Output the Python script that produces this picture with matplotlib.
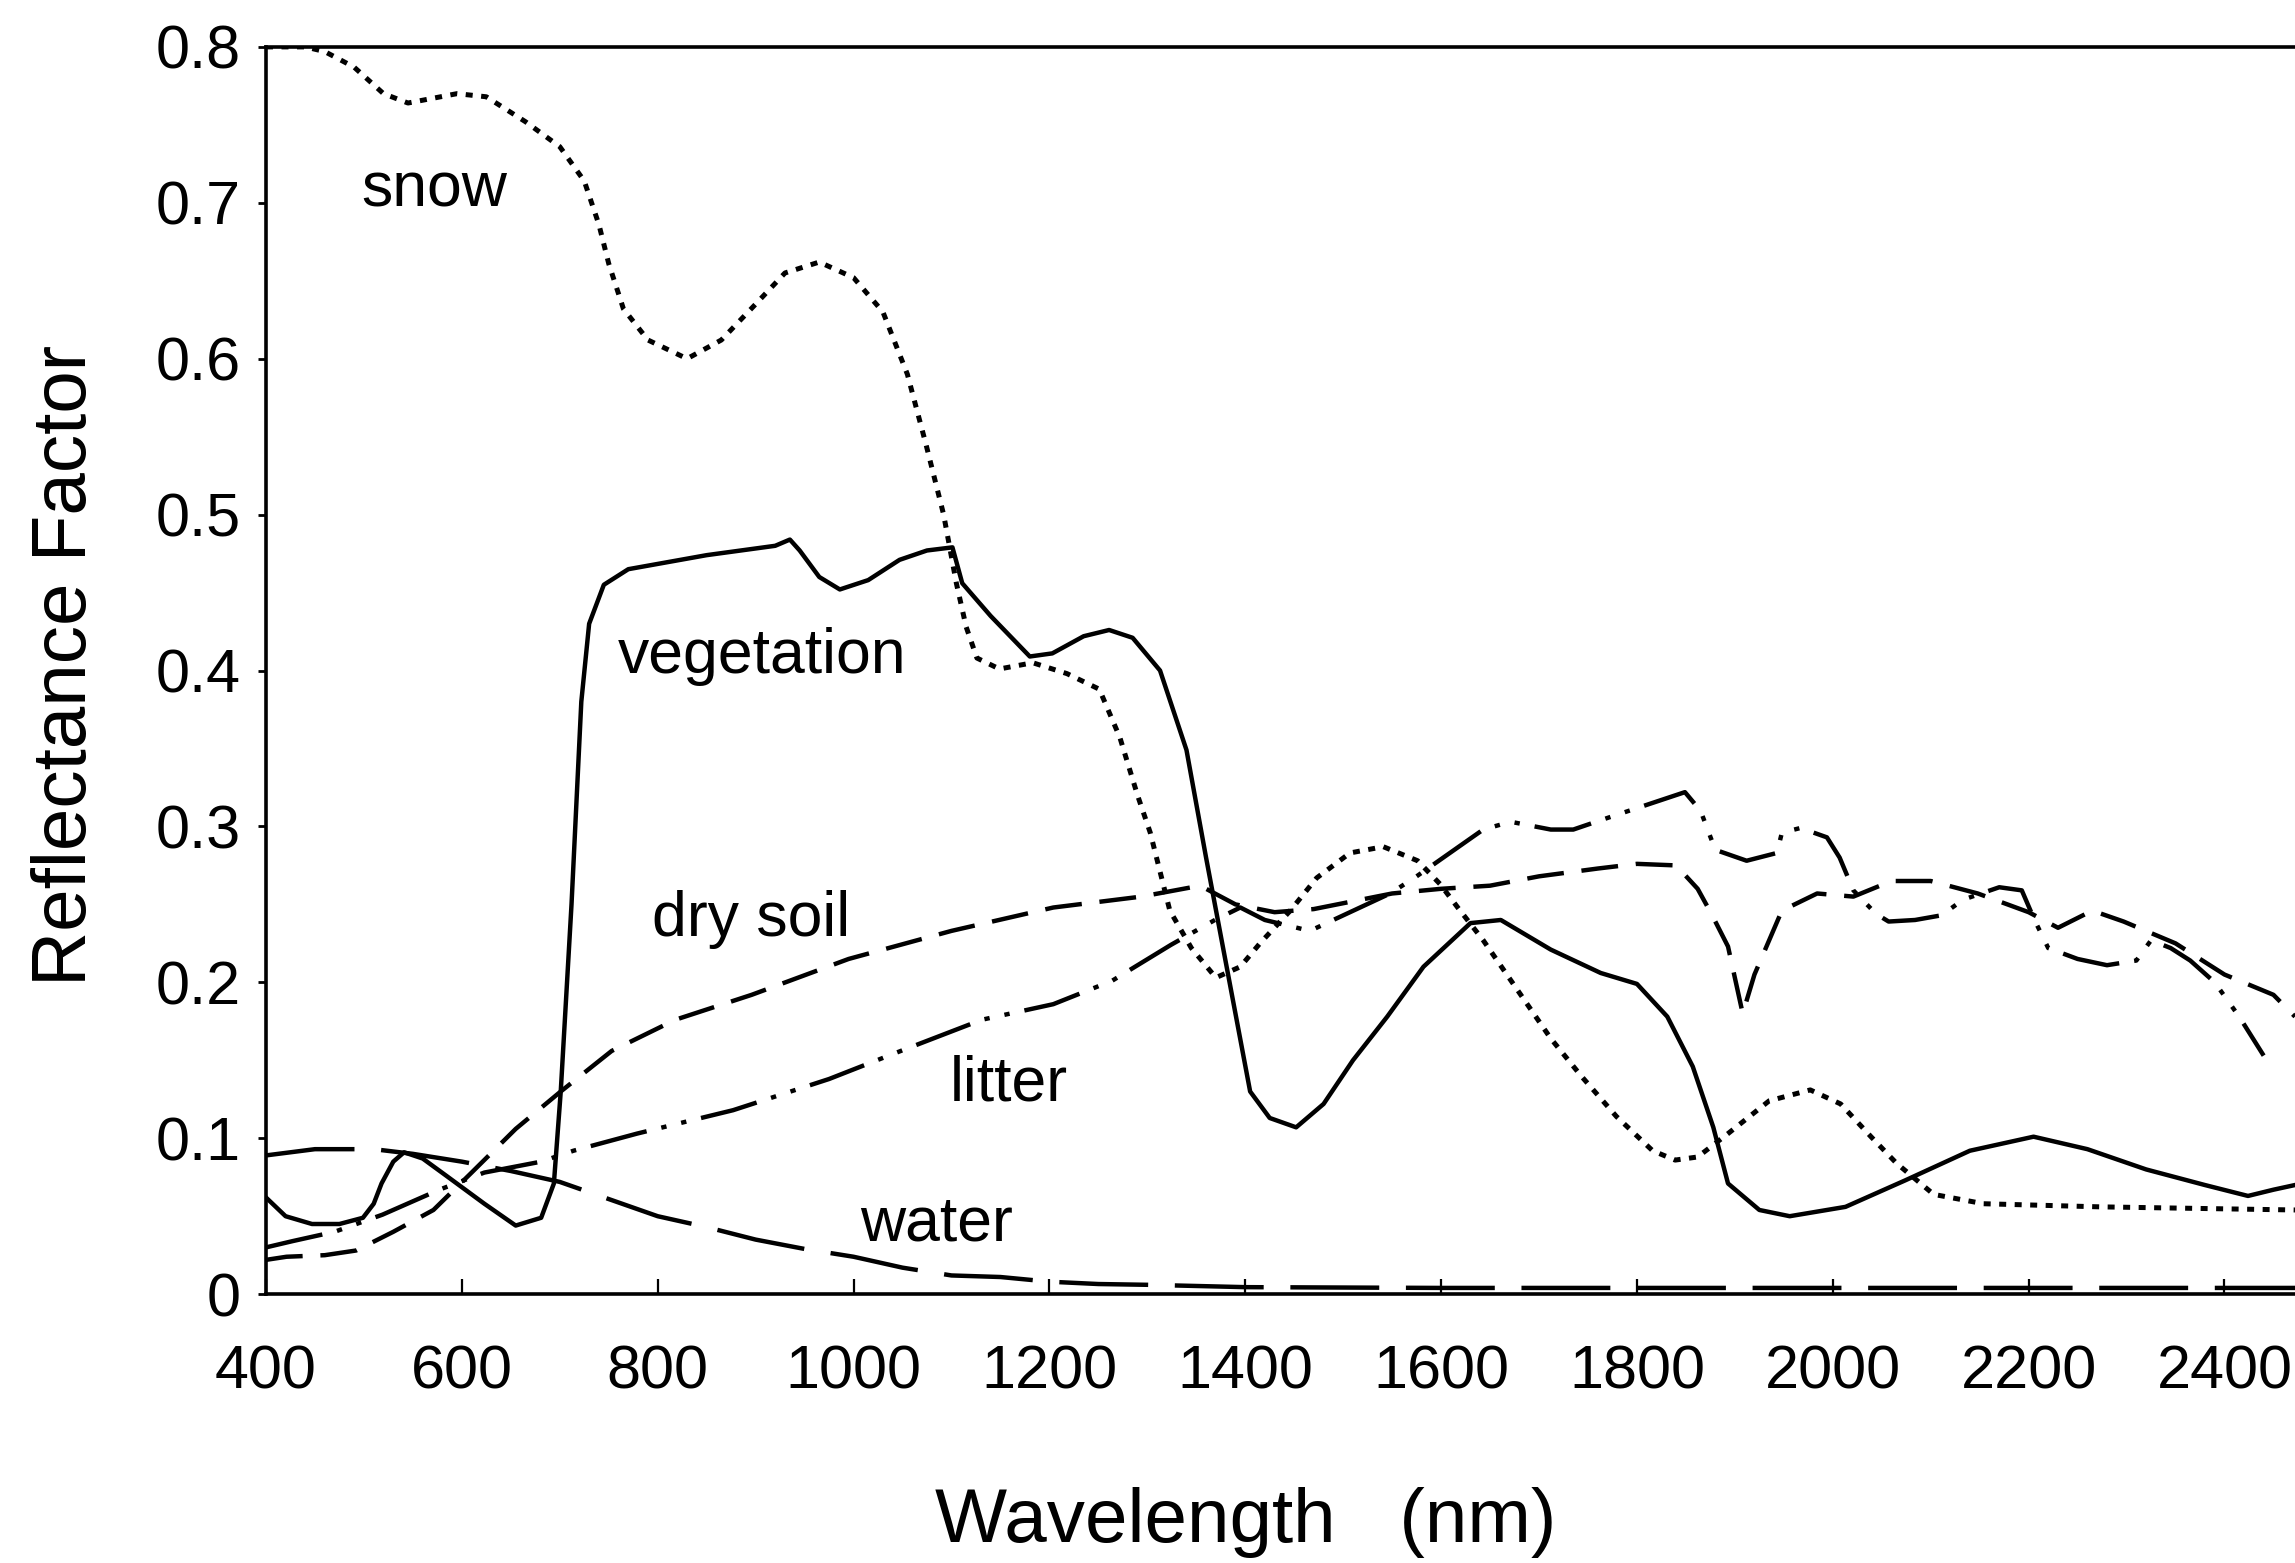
import matplotlib
matplotlib.use("Agg")
import matplotlib.pyplot as plt

plt.rcParams['font.family'] = ['Liberation Sans', 'DejaVu Sans']

# spectra (wavelength nm, reflectance factor)
snow_wl = [400, 440, 460, 490, 520, 545, 595, 625, 665, 700, 725, 740, 750, 765, 790,
           830, 865, 900, 930, 965, 1000, 1030, 1055, 1074, 1092, 1105, 1115, 1126,
           1149, 1183, 1218, 1251, 1272, 1290, 1303, 1323, 1345, 1370, 1395, 1415,
           1446, 1473, 1507, 1541, 1576, 1599, 1617, 1643, 1677, 1712, 1743, 1779,
           1816, 1839, 1862, 1893, 1935, 1977, 2008, 2039, 2065, 2103, 2154, 2273, 2472]
snow_r = [0.800, 0.800, 0.797, 0.787, 0.770, 0.764, 0.770, 0.768, 0.752, 0.736, 0.714,
          0.686, 0.661, 0.632, 0.612, 0.600, 0.612, 0.635, 0.655, 0.662, 0.652, 0.630,
          0.590, 0.545, 0.500, 0.456, 0.428, 0.408, 0.401, 0.405, 0.398, 0.388, 0.357,
          0.320, 0.296, 0.246, 0.222, 0.203, 0.210, 0.225, 0.246, 0.267, 0.283, 0.287,
          0.278, 0.263, 0.248, 0.227, 0.196, 0.164, 0.140, 0.114, 0.092, 0.086, 0.088,
          0.103, 0.124, 0.131, 0.122, 0.101, 0.084, 0.064, 0.058, 0.056, 0.054]

veg_wl = [400, 420, 447, 475, 499, 510, 518, 530, 541, 560, 584, 623, 655, 681, 694,
          701, 712, 722, 730, 745, 770, 850, 920, 935, 945, 965, 986, 1015, 1047,
          1075, 1101, 1111, 1140, 1180, 1203, 1235, 1261, 1285, 1313, 1340, 1360,
          1375, 1390, 1405, 1425, 1452, 1480, 1510, 1545, 1582, 1630, 1661, 1712,
          1763, 1800, 1831, 1857, 1878, 1893, 1925, 1956, 2013, 2074, 2140, 2205,
          2260, 2320, 2380, 2424, 2450, 2472]
veg_r = [0.062, 0.050, 0.045, 0.045, 0.049, 0.058, 0.071, 0.085, 0.091, 0.087, 0.076,
         0.058, 0.044, 0.049, 0.071, 0.130, 0.250, 0.380, 0.430, 0.455, 0.465, 0.474,
         0.480, 0.484, 0.477, 0.460, 0.452, 0.458, 0.471, 0.477, 0.479, 0.456, 0.435,
         0.409, 0.411, 0.422, 0.426, 0.421, 0.400, 0.349, 0.280, 0.230, 0.180, 0.130,
         0.113, 0.107, 0.122, 0.150, 0.178, 0.210, 0.238, 0.240, 0.221, 0.206, 0.199,
         0.178, 0.146, 0.107, 0.071, 0.054, 0.050, 0.056, 0.073, 0.092, 0.101, 0.093,
         0.080, 0.070, 0.063, 0.067, 0.070]

soil_wl = [400, 421, 460, 492, 530, 571, 610, 655, 701, 753, 818, 896, 995, 1100, 1204,
           1294, 1354, 1390, 1430, 1470, 1510, 1550, 1600, 1650, 1700, 1760, 1800, 1840,
           1862, 1876, 1893, 1908, 1920, 1948, 1984, 2021, 2060, 2100, 2148, 2200, 2230,
           2265, 2297, 2350, 2400, 2450, 2472]
soil_r = [0.022, 0.024, 0.025, 0.028, 0.040, 0.054, 0.078, 0.106, 0.130, 0.156, 0.176,
          0.192, 0.215, 0.233, 0.248, 0.255, 0.262, 0.250, 0.245, 0.247, 0.252, 0.257,
          0.260, 0.262, 0.268, 0.273, 0.276, 0.275, 0.260, 0.244, 0.223, 0.180, 0.205,
          0.246, 0.257, 0.255, 0.265, 0.265, 0.257, 0.245, 0.235, 0.246, 0.239, 0.225,
          0.205, 0.192, 0.178]

litter_wl = [400, 427, 470, 519, 577, 623, 681, 714, 779, 877, 975, 1040, 1131, 1204,
             1264, 1324, 1369, 1395, 1420, 1466, 1548, 1575, 1609, 1643, 1671, 1712,
             1735, 1763, 1849, 1865, 1880, 1912, 1943, 1948, 1967, 1994, 2007, 2021,
             2044, 2057, 2084, 2111, 2133, 2170, 2193, 2206, 2220, 2250, 2280, 2310,
             2325, 2345, 2365, 2390, 2415, 2440]
litter_r = [0.030, 0.034, 0.040, 0.051, 0.067, 0.078, 0.085, 0.092, 0.103, 0.118, 0.138,
            0.154, 0.176, 0.186, 0.201, 0.224, 0.240, 0.248, 0.240, 0.233, 0.257, 0.268,
            0.283, 0.298, 0.303, 0.298, 0.298, 0.304, 0.322, 0.310, 0.285, 0.278, 0.283,
            0.296, 0.299, 0.293, 0.280, 0.259, 0.244, 0.239, 0.240, 0.243, 0.253, 0.261,
            0.259, 0.240, 0.222, 0.215, 0.211, 0.214, 0.227, 0.222, 0.214, 0.200, 0.178,
            0.153]

water_wl = [400, 450, 510, 550, 600, 650, 700, 750, 800, 850, 900, 950, 1000, 1050, 1100,
            1150, 1200, 1250, 1300, 1400, 1600, 2000, 2472]
water_r = [0.089, 0.093, 0.093, 0.090, 0.085, 0.079, 0.072, 0.061, 0.050, 0.043, 0.035,
           0.029, 0.024, 0.017, 0.012, 0.011, 0.008, 0.0065, 0.006, 0.0045, 0.004, 0.004,
           0.004]

labels = ['snow', 'vegetation', 'dry soil', 'litter', 'water']
label_x = [572, 907, 895, 1159, 1085]
label_y = [0.708, 0.409, 0.240, 0.135, 0.045]

x_ticks = [400, 600, 800, 1000, 1200, 1400, 1600, 1800, 2000, 2200, 2400]
y_ticks = [0, 0.1, 0.2, 0.3, 0.4, 0.5, 0.6, 0.7, 0.8]
y_ticklabels = ['0', '0.1', '0.2', '0.3', '0.4', '0.5', '0.6', '0.7', '0.8']

fig = plt.figure(figsize=(22.95, 15.63), dpi=100)
ax = fig.add_axes([0.1159, 0.172, 0.8841, 0.798])

lw = 3.2
ax.plot(snow_wl, snow_r, color='black', lw=3.6, dashes=(1.4, 1.7))
ax.plot(veg_wl, veg_r, color='black', lw=lw)
ax.plot(soil_wl, soil_r, color='black', lw=lw, dashes=(8.3, 4.0))
ax.plot(litter_wl, litter_r, color='black', lw=lw, dashes=(13, 3.4, 1.2, 3.4, 1.2, 3.4))
ax.plot(water_wl, water_r, color='black', lw=lw, dashes=(20, 6))

for name, lx, ly in zip(labels, label_x, label_y):
    ax.text(lx, ly, name, fontsize=45, ha='center', va='center')

ax.set_xlim(400, 2472)
ax.set_ylim(0, 0.8)
ax.set_xticks(x_ticks)
ax.set_yticks(y_ticks)
ax.set_yticklabels(y_ticklabels)

ax.spines['right'].set_visible(False)
for s in ['left', 'bottom', 'top']:
    ax.spines[s].set_linewidth(2.6)

ax.tick_params(axis='x', direction='in', length=11, width=1.6, pad=36, labelsize=44)
ax.tick_params(axis='y', direction='out', length=6, width=2, pad=12, labelsize=44)

fig.text(0.543, 0.026, 'Wavelength   (nm)', fontsize=55, ha='center', va='center')
fig.text(0.029, 0.574, 'Reflectance Factor', fontsize=55, rotation=90,
         ha='center', va='center')

fig.savefig('out.png', dpi=100)
